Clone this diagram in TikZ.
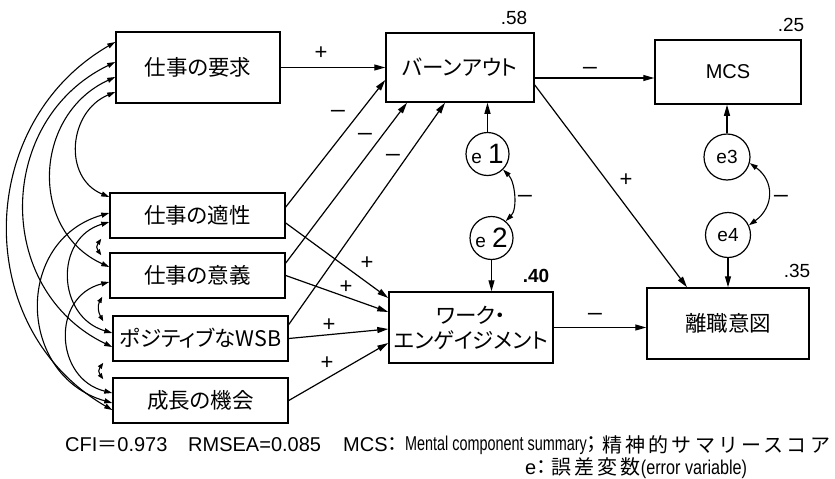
\documentclass[tikz,border=0pt]{standalone}
\usepackage{graphicx}
\usepackage{fontspec}
\setmainfont{Liberation Sans}
\newfontfamily\jp[RawFeature=+palt]{Noto Sans CJK JP}
\newfontfamily\jpw[LetterSpace=16]{Noto Sans CJK JP}
\usetikzlibrary{arrows.meta,calc}
\tikzset{
  vbox/.style={draw, line width=1.5pt, inner sep=0pt, align=center, font=\jp\fontsize{21.5}{25}\selectfont},
  errc/.style={draw, circle, line width=1.2pt, minimum size=43pt, inner sep=0pt, font=\fontsize{19}{19}\selectfont},
  arr/.style={line width=1.2pt, -{Triangle[length=11pt,width=6pt]}},
  cov/.style={line width=1.1pt, {Triangle[length=8pt,width=5pt]}-{Triangle[length=8pt,width=5pt]}},
  scov/.style={line width=1.1pt, {Triangle[length=6pt,width=4.5pt]}-{Triangle[length=6pt,width=4.5pt]}},
  sgn/.style={inner sep=0pt, font=\fontsize{22}{22}\selectfont},
  rsq/.style={inner sep=0pt, font=\fontsize{19}{19}\selectfont},
  foot/.style={inner sep=0pt, anchor=west, font=\fontsize{20}{20}\selectfont},
}
\newcommand{\mns}{\scalebox{1.3}[1]{−}}
\newcommand{\elab}[1]{{\fontsize{19}{19}\selectfont e}\hspace{6pt}{\fontsize{28}{28}\selectfont #1}}
\begin{document}
\begin{tikzpicture}[x=1pt,y=1pt]
\useasboundingbox (0,0) rectangle (835,-479);

% boxes
\node[vbox, minimum width=164pt, minimum height=71pt] (A) at (198,-67.5) {仕事の要求};
\node[vbox, minimum width=175pt, minimum height=45pt] (B) at (197.5,-215.5) {仕事の適性};
\node[vbox, minimum width=175pt, minimum height=45pt] (C) at (197.5,-275.5) {仕事の意義};
\node[vbox, minimum width=175pt, minimum height=45pt] (D) at (200.5,-338.5) {ポジティブなWSB};
\node[vbox, minimum width=175pt, minimum height=45pt] (E) at (200.5,-400.5) {成長の機会};
\node[vbox, minimum width=148pt, minimum height=69pt] (BO) at (460,-67.5) {バーンアウト};
\node[vbox, minimum width=164pt, minimum height=71pt] (WE) at (471,-327.5) {ワーク・\\エンゲイジメント};
\node[vbox, minimum width=146pt, minimum height=64pt, font=\fontsize{20}{20}\selectfont] (MCS) at (728,-72) {MCS};
\node[vbox, minimum width=162pt, minimum height=71pt] (TI) at (728,-323.5) {離職意図};

% error variables
\node[errc] (e1) at (487.5,-154) {\elab{1}};
\node[errc] (e2) at (491.5,-238) {\elab{2}};
\node[errc, minimum size=46pt] (e3) at (727,-157) {e3};
\node[errc, minimum size=45pt] (e4) at (728,-235) {e4};

% R-squared values
\node[rsq] (r58) at (514,-17.5) {.58};
\node[rsq] (r25) at (791,-25) {.25};
\node[rsq] (r35) at (797,-271) {.35};
\node[rsq, font=\bfseries\fontsize{19}{19}\selectfont] (r40) at (536,-276) {.40};

% structural paths
\draw[arr] (A.east) -- (BO.west);
\draw[arr] ([yshift=8.5pt]B.east) -- ([yshift=-12.5pt]BO.west);
\draw[arr] ([yshift=12.5pt]C.east) -- ([xshift=-53pt]BO.south);
\draw[arr] ([yshift=14pt]D.east) -- ([xshift=-15pt]BO.south);
\draw[arr] ([yshift=-7.5pt]B.east) -- ([yshift=29.5pt]WE.west);
\draw[arr] (C.east) -- ([yshift=15.5pt]WE.west);
\draw[arr] (D.east) -- ([yshift=-1.5pt]WE.west);
\draw[arr] (E.east) -- ([yshift=-15.5pt]WE.west);
\draw[arr] ([yshift=-10.5pt]BO.east) -- ([yshift=-6pt]MCS.west);
\draw[arr] ([yshift=-17.5pt]BO.east) -- ([xshift=-41pt]TI.north);
\draw[arr] (WE.east) -- ([yshift=-4pt]TI.west);
\draw[arr] (e1.north) -- (e1.north |- BO.south);
\draw[arr] (e2.south) -- (e2.south |- WE.north);
\draw[arr] (e3.north) -- (e3.north |- MCS.south);
\draw[arr] (e4.south) -- (e4.south |- TI.north);

% error covariances
\draw[cov] (e1.-45) .. controls +(12,-12) and +(12,12) .. (e2.50);
\draw[cov] (e3.-15) .. controls +(25,-18) and +(25,18) .. (e4.25);

% exogenous covariances
\draw[cov] ([yshift=25.5pt]A.west) .. controls +(-141,-81.6) and +(-141,81.6) .. ([yshift=-9.5pt]E.west);
\draw[cov] ([yshift=5.5pt]A.west) .. controls +(-119.3,-57.7) and +(-119.3,57.7) .. ([yshift=-8.5pt]D.west);
\draw[cov] ([yshift=-9.5pt]A.west) .. controls +(-81.3,-37.2) and +(-81.3,37.2) .. ([yshift=8.5pt]C.west);
\draw[cov] ([yshift=-24.5pt]A.west) .. controls +(-46.7,-19.4) and +(-46.7,19.4) .. ([yshift=18.5pt]B.west);
\draw[cov] ([yshift=2.5pt]B.west) .. controls +(-95.4,-27.3) and +(-95.4,27.3) .. ([yshift=-2.5pt]E.west);
\draw[cov] ([yshift=-6.5pt]B.west) .. controls +(-55.4,-16.3) and +(-55.4,16.3) .. ([yshift=5.5pt]D.west);
\draw[cov] ([yshift=-6.5pt]C.west) .. controls +(-58.1,-14.3) and +(-58.1,14.3) .. ([yshift=7.5pt]E.west);
\draw[scov] ([shift={(-8pt,0pt)}]B.south west) .. controls +(-5,-7) and +(-5,7) .. ([shift={(-8pt,-3pt)}]C.north west);
\draw[scov] ([shift={(-7pt,2pt)}]C.south west) .. controls +(-5,-9) and +(-5,9) .. ([shift={(-9pt,-6pt)}]D.north west);
\draw[scov] ([shift={(-9pt,-1pt)}]D.south west) .. controls +(-5,-7) and +(-5,7) .. ([shift={(-9pt,-2pt)}]E.north west);

% signs
\node[sgn] (s1) at (321,-53) {+};
\node[sgn] (s2) at (338,-114) {\mns};
\node[sgn] (s3) at (365,-137) {\mns};
\node[sgn] (s4) at (393,-158) {\mns};
\node[sgn] (s5) at (367,-263) {+};
\node[sgn] (s6) at (346,-287) {+};
\node[sgn] (s7) at (329,-325) {+};
\node[sgn] (s8) at (327,-363) {+};
\node[sgn] (s9) at (590,-71) {\mns};
\node[sgn] (s10) at (626,-180) {+};
\node[sgn] (s11) at (525,-199) {\mns};
\node[sgn] (s12) at (781,-199) {\mns};
\node[sgn] (s13) at (595,-317) {\mns};

% footer
\node[foot] (f1) at (65,-445) {CFI{\jp ＝}0.973};
\node[foot] (f2) at (188,-445) {RMSEA=0.085};
\node[foot] (f3) at (343,-445) {MCS{\jp ：}};
\node[foot] (f4) at (405,-445) {\scalebox{0.72}[1]{Mental component summary}{\jp ；}};
\node[foot, font=\jpw\fontsize{20}{20}\selectfont] (f5) at (602,-445) {精神的サマリースコア};
\node[foot] (f6) at (525,-468) {e{\jp ：}\hspace{5pt}{\jpw 誤差変数}\scalebox{0.81}[1]{(error variable)}};
\end{tikzpicture}
\end{document}
